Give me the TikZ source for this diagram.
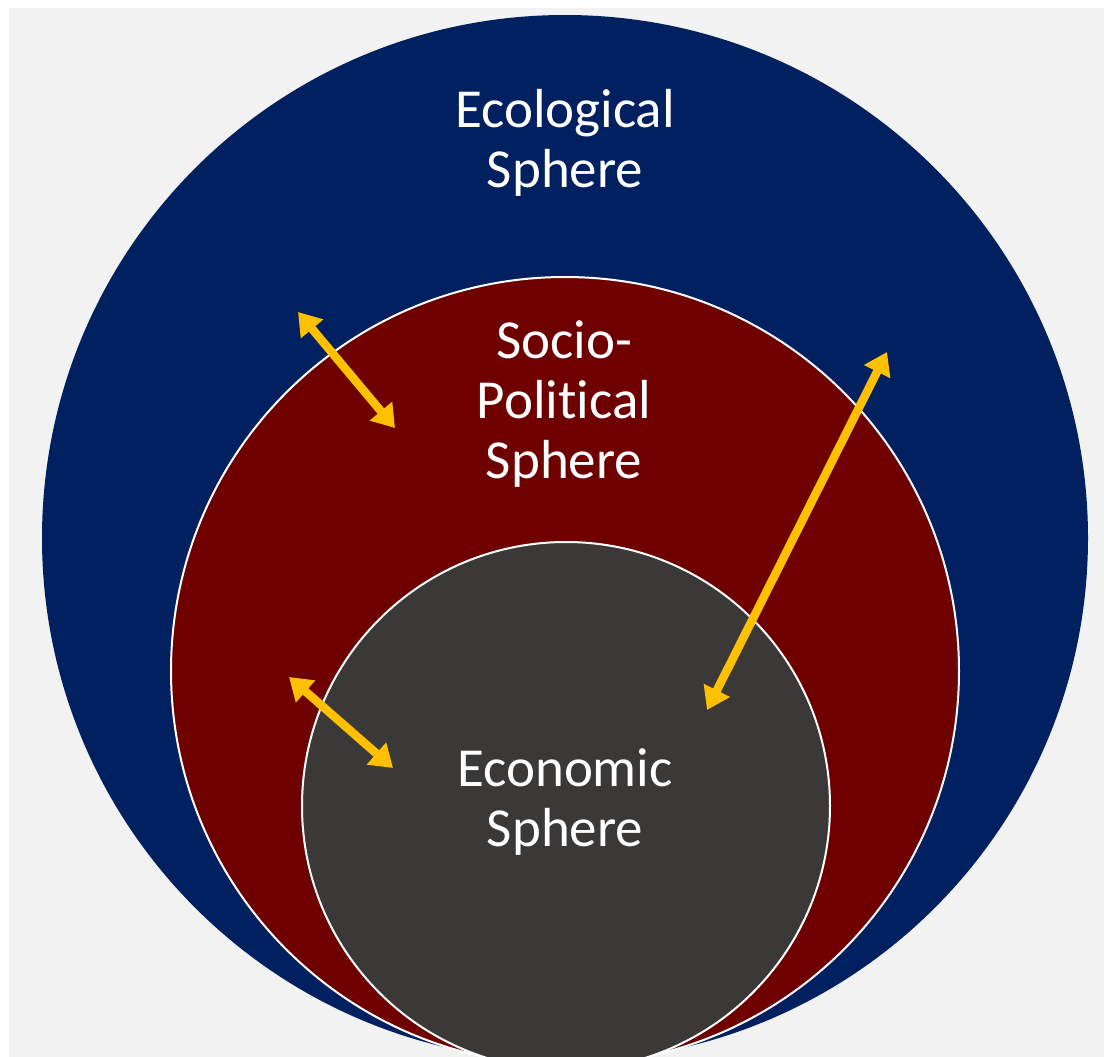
\documentclass[tikz,border=0pt]{standalone}
\usepackage{fontspec}
\setmainfont{Carlito}[Ligatures=NoCommon]
\usetikzlibrary{arrows.meta}
\definecolor{bg}{HTML}{F2F2F2}
\definecolor{eco}{HTML}{002060}
\definecolor{soc}{HTML}{6E0000}
\definecolor{econ}{HTML}{3B3838}
\definecolor{gold}{HTML}{FFC000}
\begin{document}
\begin{tikzpicture}[x=1pt,y=-1pt,
  lbl/.style={text=white,font=\fontsize{55}{60}\selectfont,align=center,inner sep=0pt},
  link/.style={draw=gold,line width=8.5pt,{Triangle[width=28pt,length=22pt]}-{Triangle[width=28pt,length=22pt]}},
  ring/.style={draw=white,line width=2pt}]
\useasboundingbox (0,0) rectangle (1104,1057);
\clip (0,0) rectangle (1104,1057);
\fill[white] (0,0) rectangle (1104,1057);
\fill[bg] (9,8) rectangle (1104,1057);
% spheres
\fill[eco] (565,538) circle[radius=523];
\path[fill=soc,ring] (565,671) circle[radius=394];
\path[fill=econ,ring] (566,806) circle[radius=264];
% labels
\node[lbl] (ecol) at (565,143) {Ecological\\Sphere};
\node[lbl] (socp) at (564,404) {Socio-\\Political\\Sphere};
\node[lbl] (econl) at (565,802) {Economic\\Sphere};
% arrow ends
\coordinate (a1s) at (298,312);
\coordinate (a1e) at (395,428);
\coordinate (a2s) at (289,677);
\coordinate (a2e) at (393,768);
\coordinate (a3s) at (887,352);
\coordinate (a3e) at (707,710);
\draw[link] (a1s) -- (a1e);
\draw[link] (a2s) -- (a2e);
\draw[link] (a3s) -- (a3e);
\end{tikzpicture}
\end{document}
